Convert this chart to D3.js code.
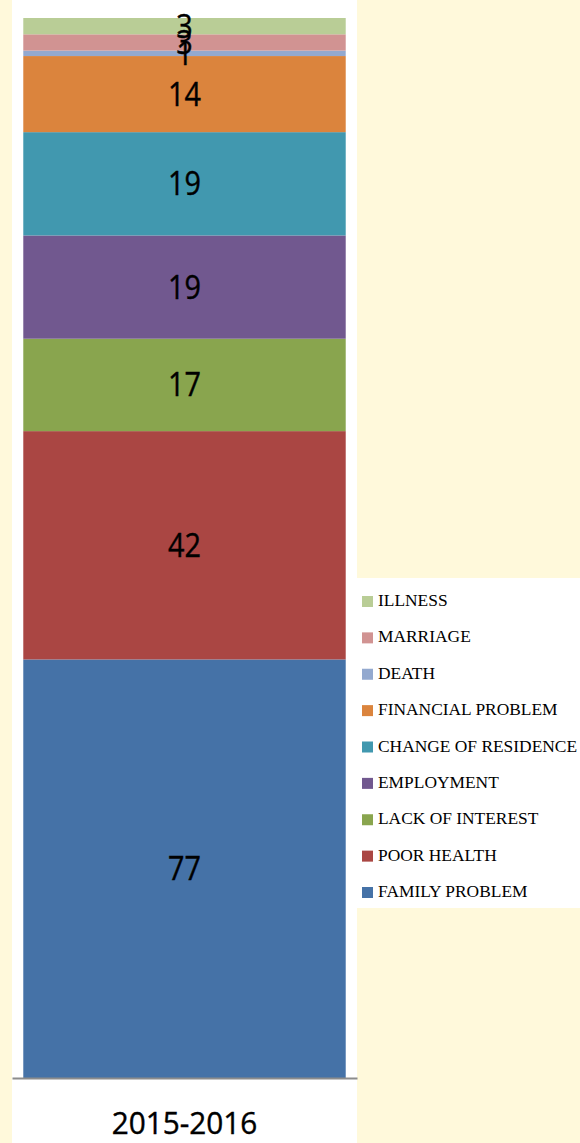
<!DOCTYPE html>
<html>
<head>
<meta charset="utf-8">
<script src="https://cdn.jsdelivr.net/npm/d3@7"></script>
<style>
html,body{margin:0;padding:0;background:#FFF9DB;}
svg{display:block;}
</style>
</head>
<body>
<svg id="chart" width="580" height="1143"></svg>
<script>
const categories = ["2015-2016"];
const seriesNames = ["FAMILY PROBLEM","POOR HEALTH","LACK OF INTEREST","EMPLOYMENT","CHANGE OF RESIDENCE","FINANCIAL PROBLEM","DEATH","MARRIAGE","ILLNESS"];
const seriesValues = [77, 42, 17, 19, 19, 14, 1, 3, 3];
const seriesColors = ["#4572A7","#AA4643","#89A54E","#71588F","#4198AF","#DB843D","#93A9CF","#D19392","#B9CD96"];

const svg = d3.select("#chart");
const W = 580, H = 1143;

// plot area background
svg.append("rect").attr("x",12).attr("y",0).attr("width",345).attr("height",H).attr("fill","#ffffff");

const total = d3.sum(seriesValues);
const y = d3.scaleLinear().domain([0,total]).range([1078,18]);
const x = d3.scaleBand().domain(categories).range([12,357]).paddingInner(0).paddingOuter(0.035);

let cum = 0;
const stacked = seriesValues.map((v,i)=>{const s={name:seriesNames[i],v,y0:cum,y1:cum+v,color:seriesColors[i]};cum+=v;return s;});

const g = svg.append("g");
g.selectAll("rect.seg").data(stacked).join("rect")
  .attr("class","seg")
  .attr("x",x(categories[0]))
  .attr("width",x.bandwidth())
  .attr("y",d=>y(d.y1))
  .attr("height",d=>y(d.y0)-y(d.y1))
  .attr("fill",d=>d.color);

const cx = x(categories[0])+x.bandwidth()/2;
g.selectAll("text.lbl").data(stacked).join("text")
  .attr("class","lbl")
  .attr("x",0)
  .attr("y",d=>(y(d.y0)+y(d.y1))/2)
  .attr("dy","0.36em")
  .attr("text-anchor","middle")
  .attr("font-family","'Open Sans', sans-serif")
  .attr("font-size",32)
  .attr("stroke","#000").attr("stroke-width",0.4)
  .attr("transform",`translate(${cx},0) scale(0.9,1)`)
  .attr("fill","#000")
  .text(d=>d.v);

// axis
const axis = d3.axisBottom(x).tickSize(0).tickPadding(34);
const ax = svg.append("g").attr("transform","translate(0,1078)").call(axis);
ax.select(".domain").attr("stroke","#8c8c8c").attr("stroke-width",2);
ax.selectAll("text").attr("font-family","'Open Sans', sans-serif").attr("font-size",31).attr("fill","#000")
  .attr("stroke","#000").attr("stroke-width",0.4)
  .attr("transform","scale(0.96,1)");

// legend
const leg = svg.append("g");
leg.append("rect").attr("x",357).attr("y",578).attr("width",223).attr("height",330).attr("fill","#ffffff");
const legendItems = stacked.slice().reverse();
const ly = d3.scalePoint().domain(legendItems.map(d=>d.name)).range([600,891]);
const li = leg.selectAll("g.li").data(legendItems).join("g").attr("class","li")
  .attr("transform",d=>`translate(0,${ly(d.name)})`);
li.append("rect").attr("x",362).attr("y",-4).attr("width",11).attr("height",11).attr("fill",d=>d.color);
li.append("text").attr("x",378).attr("y",0).attr("dy","0.35em")
  .attr("font-family","'Liberation Serif', 'Times New Roman', serif").attr("font-size",17.4).attr("fill","#000")
  .text(d=>d.name);
</script>
</body>
</html>
